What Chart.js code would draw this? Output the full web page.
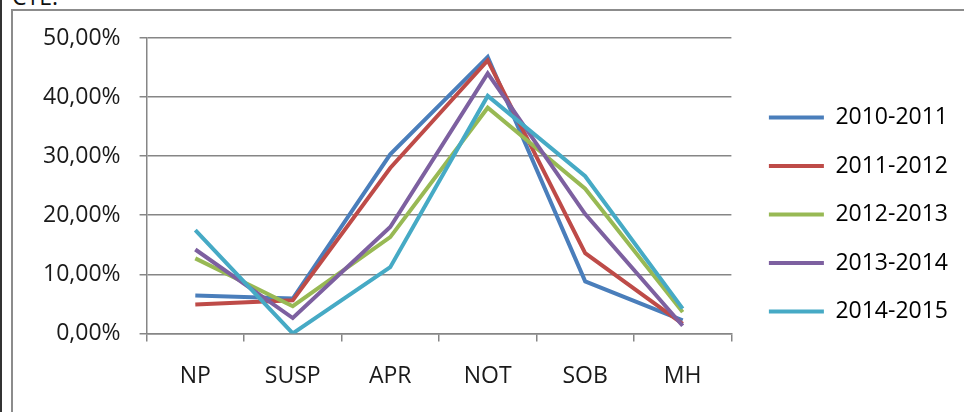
<!DOCTYPE html>
<html>
<head>
<meta charset="utf-8">
<script src="https://cdn.jsdelivr.net/npm/chart.js@4.4.1/dist/chart.umd.min.js"></script>
<style>
  html, body { margin: 0; padding: 0; background: #fff; }
  #wrap { position: relative; width: 964px; height: 412px; overflow: hidden; }
  #edge { position: absolute; left: 0; top: 0; width: 2px; height: 412px; background: #333; }
  #frame { position: absolute; left: 11px; top: 9px; width: 960px; height: 420px;
           border-left: 2px solid #8c8c8c; border-top: 2px solid #8c8c8c; }
  #cut { position: absolute; left: 12px; top: -20px; font: 23px "Open Sans", sans-serif; color: #111; }
  canvas { position: absolute; left: 0; top: 0; }
</style>
</head>
<body>
<div id="wrap">
  <div id="edge"></div>
  <div id="cut">CTE.</div>
  <div id="frame"></div>
  <canvas id="myChart" width="964" height="412"></canvas>
</div>
<script>
// categories and series (percent)
var categories = ['NP', 'SUSP', 'APR', 'NOT', 'SOB', 'MH'];
var seriesNames = ['2010-2011', '2011-2012', '2012-2013', '2013-2014', '2014-2015'];
var s2010 = [6.4, 5.9, 30.3, 46.8, 8.8, 2.2];
var s2011 = [4.9, 5.6, 28.0, 46.2, 13.6, 1.6];
var s2012 = [12.7, 4.6, 16.3, 38.2, 24.5, 3.6];
var s2013 = [14.2, 2.6, 18.0, 44.0, 20.2, 1.3];
var s2014 = [17.5, 0.0, 11.2, 40.2, 26.6, 4.2];
var yTicks = [0, 10, 20, 30, 40, 50];
var colors = ['#4A7EBB', '#BE4B48', '#98B954', '#7D60A0', '#46AAC5'];

var allSeries = [s2010, s2011, s2012, s2013, s2014];
var font = "'Open Sans', sans-serif";

var datasets = allSeries.map(function (vals, i) {
  return {
    label: seriesNames[i],
    data: vals,
    borderColor: colors[i],
    backgroundColor: colors[i],
    borderWidth: 4,
    pointRadius: 0,
    tension: 0,
    order: allSeries.length - i   // later series drawn on top
  };
});

// nudge the legend drawing to where excel had it
var legendShift = {
  id: 'legendShift',
  afterInit: function (chart) {
    var lg = chart.legend;
    var orig = lg.draw;
    lg.draw = function () {
      var ctx = this.ctx;
      ctx.save();
      ctx.translate(12, -10);
      orig.apply(this, arguments);
      ctx.restore();
    };
  }
};

new Chart(document.getElementById('myChart'), {
  type: 'line',
  data: { labels: categories, datasets: datasets },
  plugins: [legendShift],
  options: {
    responsive: false,
    animation: false,
    layout: { padding: { top: 38, left: 24, right: 18, bottom: 1 } },
    plugins: {
      tooltip: { enabled: false },
      legend: {
        position: 'right',
        labels: {
          font: { family: font, size: 23 },
          color: '#1a1a1a',
          boxWidth: 55,
          boxHeight: 4,
          padding: 25.5,
          generateLabels: function (chart) {
            return chart.data.datasets.map(function (ds, i) {
              return {
                text: ds.label,
                fillStyle: ds.borderColor,
                strokeStyle: ds.borderColor,
                lineWidth: 0,
                hidden: false,
                datasetIndex: i
              };
            });
          }
        }
      }
    },
    scales: {
      x: {
        offset: true,
        grid: {
          offset: true,
          drawOnChartArea: false,
          drawTicks: true,
          tickLength: 8,
          color: '#868686',
          lineWidth: 1.5
        },
        border: { color: '#868686', width: 1.5 },
        ticks: { font: { family: font, size: 23 }, color: '#1a1a1a', padding: 21 }
      },
      y: {
        min: 0,
        max: 50,
        afterBuildTicks: function (axis) {
          axis.ticks = yTicks.map(function (v) { return { value: v }; });
        },
        grid: { color: '#868686', lineWidth: 1.5, tickLength: 7 },
        border: { color: '#868686', width: 1.5 },
        ticks: {
          font: { family: font, size: 23 },
          color: '#1a1a1a',
          padding: 19,
          callback: function (v) { return v.toFixed(2).replace('.', ',') + '%'; }
        }
      }
    }
  }
});
</script>
</body>
</html>
